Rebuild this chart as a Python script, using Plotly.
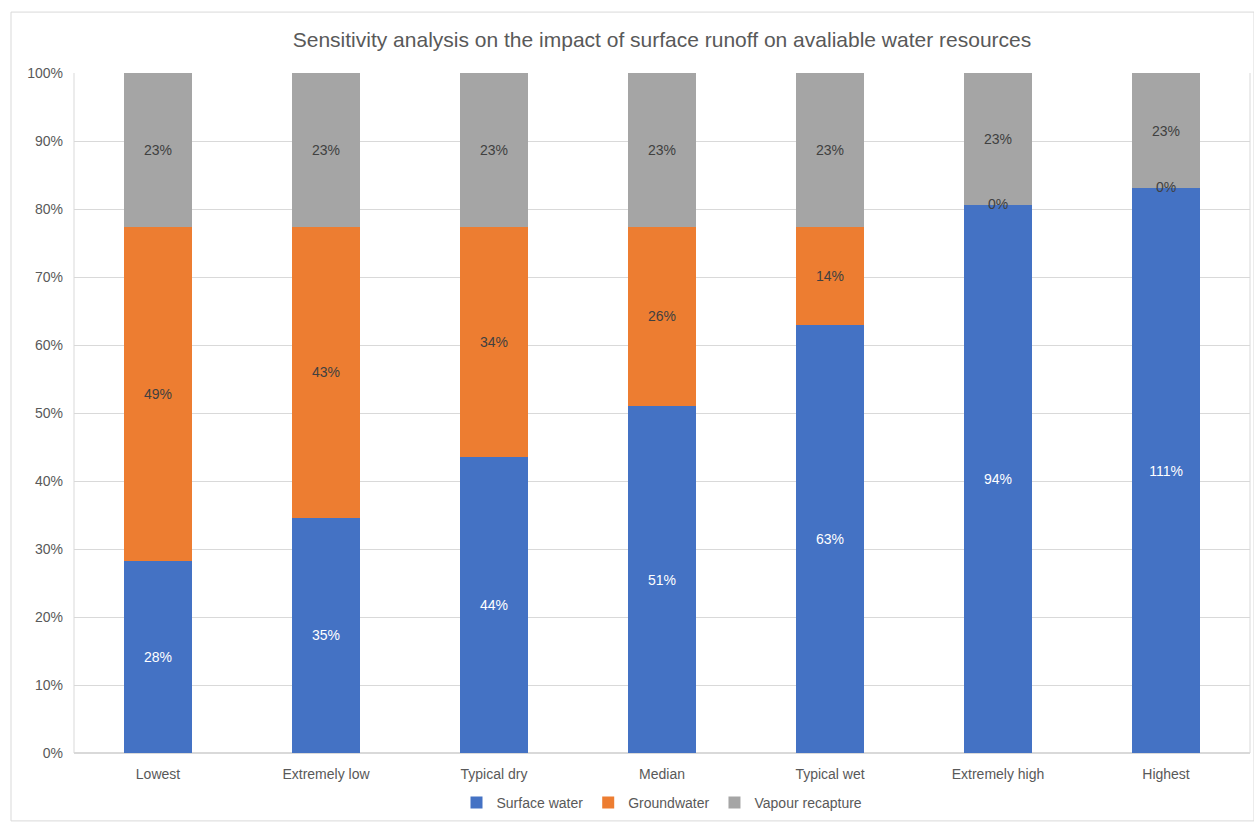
import plotly.graph_objects as go

categories = ["Lowest", "Extremely low", "Typical dry", "Median", "Typical wet", "Extremely high", "Highest"]
surface_water = [28.2, 34.6, 43.6, 51.0, 63.0, 94.0, 111.0]
groundwater = [49.2, 42.8, 33.8, 26.4, 14.4, 0.0, 0.0]
vapour_recapture = [22.6, 22.6, 22.6, 22.6, 22.6, 22.6, 22.6]

colors = {"Surface water": "#4472C4", "Groundwater": "#ED7D31", "Vapour recapture": "#A5A5A5"}
FONT = "Liberation Sans, Arial, sans-serif"

fig = go.Figure()
series = [("Surface water", surface_water, "white"),
          ("Groundwater", groundwater, "#404040"),
          ("Vapour recapture", vapour_recapture, "#404040")]
for name, vals, tc in series:
    fig.add_trace(go.Bar(
        x=categories, y=vals, name=name,
        marker=dict(color=colors[name], line=dict(width=0)),
        text=[f"{round(v)}%" if v > 0 else "" for v in vals],
        textposition="inside", insidetextanchor="middle",
        textfont=dict(family=FONT, size=14, color=tc),
        cliponaxis=False,
    ))

# labels for zero-height segments
annotations = []
for i, c in enumerate(categories):
    if groundwater[i] == 0:
        total = surface_water[i] + groundwater[i] + vapour_recapture[i]
        ypos = 100 * surface_water[i] / total
        annotations.append(dict(x=c, y=ypos, xref="x", yref="y", text="0%", showarrow=False,
                                yshift=1, font=dict(family=FONT, size=14, color="#404040")))

W, H = 1254, 822
ml, mr, mt, mb = 74, 4, 73, 68
pw, ph = W - ml - mr, H - mt - mb

def px2x(p):
    return (p - ml) / pw

def px2y(p):
    return (H - mb - p) / ph

fig.update_layout(
    width=W, height=H,
    barmode="stack", barnorm="percent", bargap=0.6,
    margin=dict(l=ml, r=mr, t=mt, b=mb),
    paper_bgcolor="white", plot_bgcolor="white",
    title=dict(text="Sensitivity analysis on the impact of surface runoff on avaliable water resources",
               x=0.5, xref="paper", y=1 - 40 / H, yanchor="middle",
               font=dict(family=FONT, size=21, color="#595959")),
    font=dict(family=FONT, size=14, color="#595959"),
    xaxis=dict(showgrid=False, showline=False, ticks="", ticklabelstandoff=11,
               tickfont=dict(size=14, color="#595959")),
    yaxis=dict(range=[0, 100.001], tickvals=[0, 10, 20, 30, 40, 50, 60, 70, 80, 90, 100],
               ticktext=[f"{v}%" for v in range(0, 101, 10)], showgrid=True, gridcolor="#D9D9D9",
               gridwidth=1, zeroline=True, zerolinecolor="#D9D9D9", showline=False,
               ticklabelstandoff=10, tickfont=dict(size=14, color="#595959")),
    legend=dict(orientation="h", x=0.5, xanchor="center", xref="paper",
                y=px2y(803), yanchor="middle", font=dict(size=14, color="#595959"),
                traceorder="normal", itemwidth=30),
    annotations=annotations,
    shapes=[
        dict(type="rect", xref="paper", yref="paper", x0=px2x(11), x1=px2x(1254), y0=px2y(822), y1=px2y(12),
             line=dict(color="#D9D9D9", width=1), fillcolor="rgba(0,0,0,0)", layer="below"),
        dict(type="line", xref="paper", yref="paper", x0=0, x1=0, y0=0, y1=1,
             line=dict(color="#D9D9D9", width=1)),
        dict(type="line", xref="paper", yref="paper", x0=1, x1=1, y0=0, y1=1,
             line=dict(color="#D9D9D9", width=1)),
    ],
)

fig.write_html("out.html")
